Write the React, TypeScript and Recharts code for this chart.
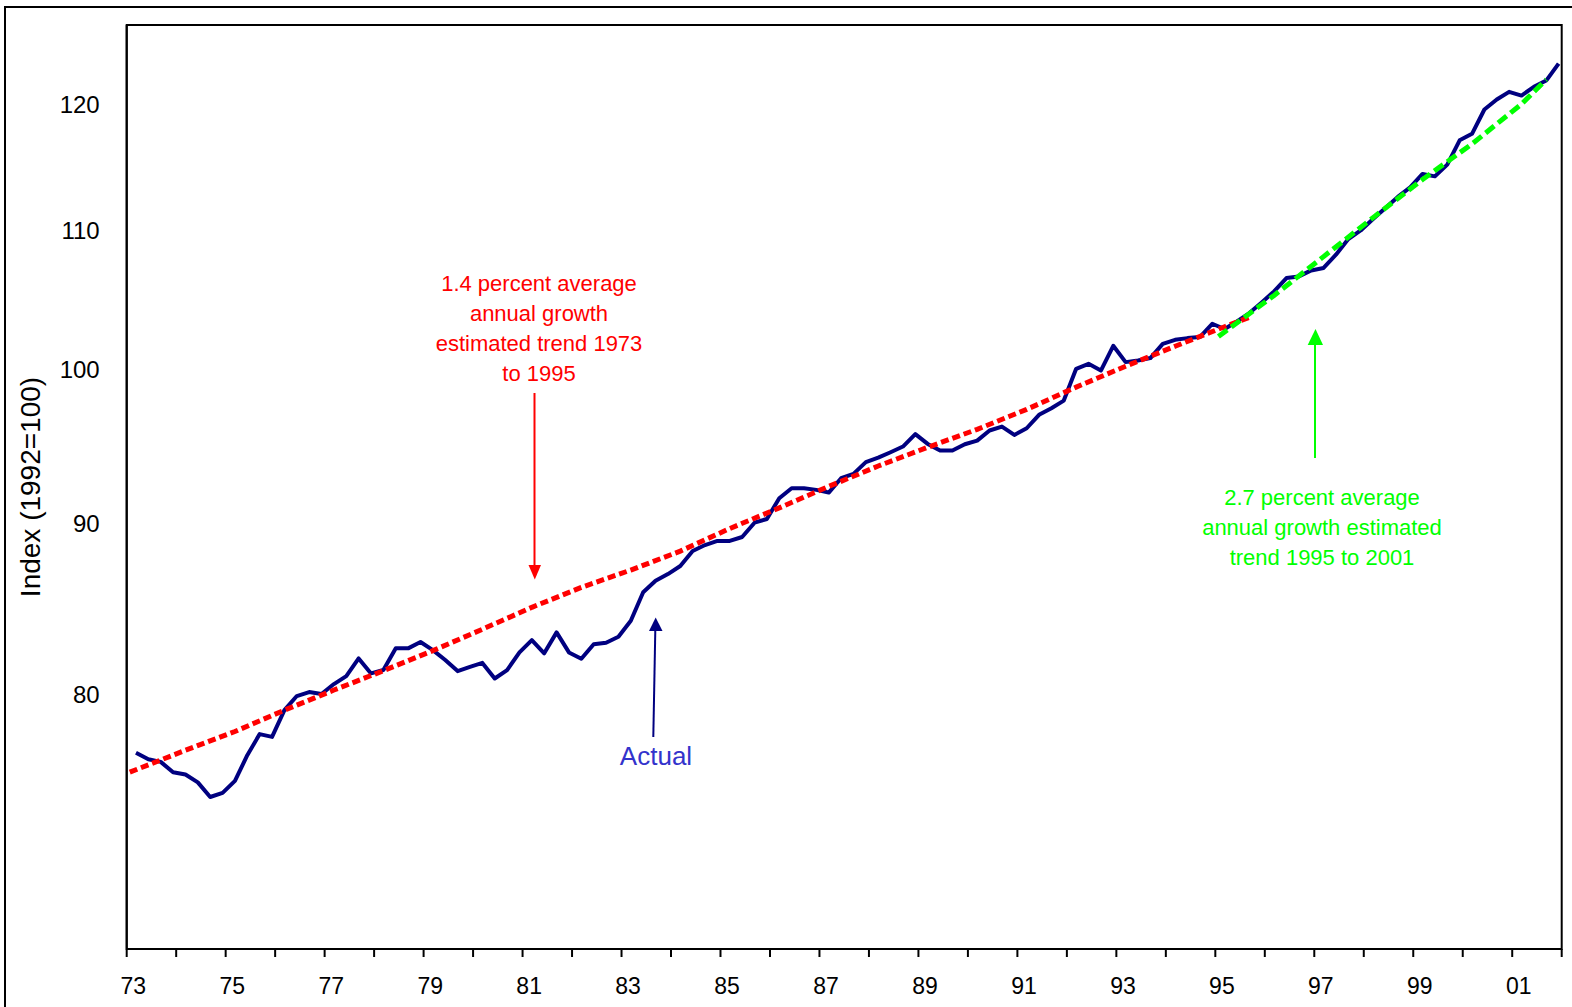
import React from 'react';
import { LineChart, Line, XAxis, YAxis } from 'recharts';

// Quarterly index values, 1973Q1 .. 2001Q4 (1992 = 100)
const actualIndex = [
  76.89, 76.55, 76.41, 75.87, 75.75, 75.34, 74.59, 74.8, 75.42, 76.76,
  77.88, 77.73, 79.17, 79.94, 80.16, 80.05, 80.6, 81.04, 82.03, 81.19,
  81.38, 82.6, 82.6, 82.96, 82.5, 81.94, 81.32, 81.56, 81.78, 80.91,
  81.38, 82.37, 83.07, 82.32, 83.51, 82.37, 82.01, 82.83, 82.92, 83.26,
  84.18, 85.84, 86.52, 86.92, 87.4, 88.31, 88.67, 88.92, 88.92, 89.16,
  90.04, 90.27, 91.56, 92.19, 92.19, 92.09, 91.92, 92.83, 93.11, 93.86,
  94.15, 94.5, 94.87, 95.68, 95.04, 94.61, 94.61, 95.02, 95.26, 95.92,
  96.18, 95.63, 96.07, 96.96, 97.4, 97.91, 100.07, 100.41, 99.95, 101.66,
  100.53, 100.64, 100.81, 101.8, 102.08, 102.2, 102.27, 103.21, 102.84, 103.37,
  103.97, 104.73, 105.53, 106.5, 106.62, 107.06, 107.24, 108.22, 109.39, 110.04,
  110.91, 111.75, 112.6, 113.34, 114.39, 114.2, 115.12, 117.06, 117.58, 119.56,
  120.38, 121.02, 120.71, 121.44, 121.96, 123.39,
];

// 1973-1995 trend (position in quarters from 1973Q1, value)
const redTrendQuarters = [-0.5, 4, 8, 12, 16, 20, 24, 28, 32, 36, 40, 44, 48, 52, 56, 60, 64, 68, 72, 76, 80, 84, 88, 90];
const redTrendValues = [
  75.87, 77.02, 78.02, 79.17, 80.27, 81.34, 82.47, 83.69, 84.96, 86.13, 87.16, 88.3,
  89.68, 90.96, 92.31, 93.61, 94.82, 96.0, 97.32, 98.82, 100.25, 101.63, 103.0, 103.67,
];

// 1995-2001 trend
const greenTrendQuarters = [87.5, 92, 96, 100, 104, 108, 112, 114];
const greenTrendValues = [102.31, 105.24, 108.08, 111.01, 113.96, 116.77, 120.01, 122.05];

const xTickYears = [
  1973, 1974, 1975, 1976, 1977, 1978, 1979, 1980, 1981, 1982, 1983, 1984, 1985, 1986, 1987,
  1988, 1989, 1990, 1991, 1992, 1993, 1994, 1995, 1996, 1997, 1998, 1999, 2000, 2001, 2002,
];
const xLabelYears = [1973, 1975, 1977, 1979, 1981, 1983, 1985, 1987, 1989, 1991, 1993, 1995, 1997, 1999, 2001];
const yTicks = [80, 90, 100, 110, 120];

const quarterTime = (i: number) => 1973 + (i + 0.75) / 4;

const actualData = actualIndex.map((v, i) => ({ t: quarterTime(i), v }));
const redData = redTrendQuarters.map((q, i) => ({ t: quarterTime(q), v: redTrendValues[i] }));
const greenData = greenTrendQuarters.map((q, i) => ({ t: quarterTime(q), v: greenTrendValues[i] }));

const FONT = '"Liberation Sans", Arial, Helvetica, sans-serif';

const XTick = (props: any) => {
  const { x, y, payload } = props;
  const year = payload.value as number;
  if (!xLabelYears.includes(year)) return null;
  const label = String(year % 100).padStart(2, '0');
  return (
    <text x={x + 6.6} y={y} dy="0.71em" textAnchor="middle" fontSize={23} fontFamily={FONT} fill="#000">
      {label}
    </text>
  );
};

export default function App() {
  const W = 1572;
  const H = 1007;
  return (
    <div style={{ position: 'absolute', left: 0, top: 0, width: W, height: H, overflow: 'hidden', background: '#fff' }}>
      <LineChart
        width={W}
        height={H}
        margin={{ top: 25, right: 10.3, bottom: 8, left: 66.7 }}
      >
        <XAxis
          dataKey="t"
          type="number"
          domain={[1973, 2002]}
          ticks={xTickYears}
          interval={0}
          height={50}
          axisLine={{ stroke: '#000', strokeWidth: 2 }}
          tickLine={{ stroke: '#000', strokeWidth: 2 }}
          tickSize={8}
          tickMargin={21}
          tick={<XTick />}
          allowDataOverflow
        />
        <YAxis
          type="number"
          scale="log"
          domain={[67.2, 126.7]}
          allowDataOverflow
          ticks={yTicks}
          interval={0}
          width={60}
          axisLine={{ stroke: '#000', strokeWidth: 2 }}
          tickLine={false}
          tickSize={0}
          tickMargin={27}
          tick={{ fill: '#000', fontSize: 24, fontFamily: FONT }}
        />
        <Line
          data={actualData}
          dataKey="v"
          type="linear"
          stroke="#000080"
          strokeWidth={4}
          dot={false}
          activeDot={false}
          isAnimationActive={false}
          strokeLinejoin="round"
        />
        <Line
          data={redData}
          dataKey="v"
          type="linear"
          stroke="#FF0000"
          strokeWidth={5}
          strokeDasharray="8 4"
          dot={false}
          activeDot={false}
          isAnimationActive={false}
        />
        <Line
          data={greenData}
          dataKey="v"
          type="linear"
          stroke="#00FF00"
          strokeWidth={5}
          strokeDasharray="11 5"
          dot={false}
          activeDot={false}
          isAnimationActive={false}
        />
      </LineChart>
      <svg
        width={W}
        height={H}
        style={{ position: 'absolute', left: 0, top: 0, pointerEvents: 'none' }}
        fontFamily={FONT}
      >
        <rect x={5} y={7} width={1700} height={1200} fill="none" stroke="#000" strokeWidth={2} />
        <rect x={126.7} y={25} width={1435} height={924} fill="none" stroke="#000" strokeWidth={2} />
        <text
          x={30}
          y={487}
          transform="rotate(-90 30 487)"
          textAnchor="middle"
          dominantBaseline="central"
          fontSize={28}
          fill="#000"
        >
          Index (1992=100)
        </text>

        <g fill="#FF0000" fontSize={22} textAnchor="middle" dominantBaseline="central">
          <text x={539} y={283}>1.4 percent average</text>
          <text x={539} y={313}>annual growth</text>
          <text x={539} y={343}>estimated trend 1973</text>
          <text x={539} y={373}>to 1995</text>
        </g>
        <line x1={534.5} y1={393} x2={534.5} y2={566} stroke="#FF0000" strokeWidth={2} />
        <polygon points="528.5,565 541,565 534.8,579.5" fill="#FF0000" />

        <line x1={653.3} y1={737} x2={655.3} y2={630} stroke="#000080" strokeWidth={2} />
        <polygon points="649,631 662.5,631 655.7,617.5" fill="#000080" />
        <text x={656} y={756} fontSize={26} fill="#3333CC" textAnchor="middle" dominantBaseline="central">
          Actual
        </text>

        <line x1={1315} y1={458} x2={1315} y2={344} stroke="#00FF00" strokeWidth={2} />
        <polygon points="1307.7,345 1323,345 1315.5,329" fill="#00FF00" />
        <g fill="#00FF00" fontSize={22} textAnchor="middle" dominantBaseline="central">
          <text x={1322} y={497}>2.7 percent average</text>
          <text x={1322} y={527}>annual growth estimated</text>
          <text x={1322} y={557}>trend 1995 to 2001</text>
        </g>
      </svg>
    </div>
  );
}
